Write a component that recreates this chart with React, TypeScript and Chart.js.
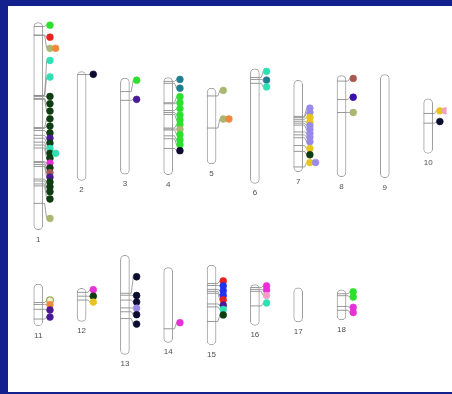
import { useEffect, useRef } from 'react';
import { Chart, registerables } from 'chart.js';

Chart.register(...registerables);

// Chromosome names, grid row/column and lengths (map units)
const chromosomes = ['1', '2', '3', '4', '5', '6', '7', '8', '9', '10', '11', '12', '13', '14', '15', '16', '17', '18'];
const chrRow = [0, 0, 0, 0, 0, 0, 0, 0, 0, 0, 1, 1, 1, 1, 1, 1, 1, 1];
const chrCol = [0, 1, 2, 3, 4, 5, 6, 7, 8, 9, 0, 1, 2, 3, 4, 5, 6, 7];
const chrLength = [213, 112, 99, 100, 78, 118, 94, 104, 106, 56, 43, 34, 102, 77, 82, 42, 35, 31];
const rowCentre = [118, 302];

const palette: Record<string, string> = {
  green: '#2ee02e',
  red: '#e8201e',
  olive: '#a8b870',
  orange: '#f0883a',
  cyan: '#30e0b4',
  dkgreen: '#0d3d10',
  purple: '#4a1a96',
  magenta: '#e830d8',
  brown: '#a85a50',
  teal: '#207f8f',
  navy: '#0c0c30',
  lavender: '#9a8ae8',
  yellow: '#e8c41c',
  pink: '#f0a0c8',
  blue: '#2230f0',
  indigo: '#3a10a8',
  oliveRing: '#eef0d0',
};

// [chromosome, locus (from top), label position (from top), colour, side-by-side slot]
const markers: [number, number, number, string, number][] = [
  [1, 4, 2.7, 'green', 0],
  [1, 13, 15, 'red', 0],
  [1, 13, 26.5, 'olive', 0],
  [1, 13, 26.5, 'orange', 1],
  [1, 75, 39, 'cyan', 0],
  [1, 75, 56, 'cyan', 0],
  [1, 76, 76, 'dkgreen', 0],
  [1, 78, 83.5, 'dkgreen', 0],
  [1, 79, 91, 'dkgreen', 0],
  [1, 108, 99, 'dkgreen', 0],
  [1, 109, 106.5, 'dkgreen', 0],
  [1, 111, 113.5, 'dkgreen', 0],
  [1, 116, 119, 'purple', 0],
  [1, 119, 124, 'dkgreen', 0],
  [1, 123, 129.5, 'cyan', 0],
  [1, 126, 134.5, 'dkgreen', 0],
  [1, 126, 134.5, 'cyan', 1],
  [1, 129, 139.5, 'dkgreen', 0],
  [1, 143, 144.5, 'magenta', 0],
  [1, 144, 149.5, 'dkgreen', 0],
  [1, 146, 154.5, 'brown', 0],
  [1, 148, 159, 'purple', 0],
  [1, 161, 164, 'dkgreen', 0],
  [1, 163, 169, 'dkgreen', 0],
  [1, 166, 174, 'dkgreen', 0],
  [1, 168, 181.5, 'dkgreen', 0],
  [1, 186, 201.5, 'olive', 0],
  [2, 3, 2.7, 'navy', 0],
  [3, 14, 2.3, 'green', 0],
  [3, 23, 22, 'purple', 0],
  [4, 4, 2, 'teal', 0],
  [4, 6, 11, 'teal', 0],
  [4, 26, 19.7, 'green', 0],
  [4, 27, 26, 'green', 0],
  [4, 34, 32, 'green', 0],
  [4, 36, 38.7, 'green', 0],
  [4, 38, 43.7, 'green', 0],
  [4, 52, 48.7, 'green', 0],
  [4, 53, 53.3, 'olive', 0],
  [4, 54, 58.7, 'green', 0],
  [4, 60, 64.3, 'green', 0],
  [4, 63, 69.3, 'green', 0],
  [4, 73, 75.3, 'navy', 0],
  [5, 8, 2.3, 'olive', 0],
  [5, 41, 31.7, 'olive', 0],
  [5, 41, 31.7, 'orange', 1],
  [6, 9, 2.7, 'cyan', 0],
  [6, 11, 11.7, 'teal', 0],
  [6, 15, 18.7, 'cyan', 0],
  [7, 37, 28.5, 'lavender', 0],
  [7, 38, 33, 'lavender', 0],
  [7, 40, 38, 'yellow', 0],
  [7, 42, 43, 'yellow', 0],
  [7, 44, 46.5, 'lavender', 0],
  [7, 46, 50.5, 'lavender', 0],
  [7, 53, 54.5, 'lavender', 0],
  [7, 56, 58.5, 'lavender', 0],
  [7, 59, 63, 'lavender', 0],
  [7, 67, 70, 'yellow', 0],
  [7, 73, 76.5, 'dkgreen', 0],
  [7, 89, 84.5, 'yellow', 0],
  [7, 89, 84.5, 'lavender', 1],
  [8, 5.7, 3, 'brown', 0],
  [8, 24.7, 22.3, 'indigo', 0],
  [8, 38, 38, 'olive', 0],
  [10, 15, 12.3, 'yellow', 0],
  [10, 15, 12.3, 'pink', 1],
  [10, 25, 23.3, 'navy', 0],
  [11, 19, 16.7, 'oliveRing', 0],
  [11, 21, 21.3, 'orange', 0],
  [11, 26, 26.7, 'purple', 0],
  [11, 36, 34, 'purple', 0],
  [12, 4, 1.3, 'magenta', 0],
  [12, 8, 8, 'dkgreen', 0],
  [12, 12, 14, 'yellow', 0],
  [13, 39, 22, 'navy', 0],
  [13, 41, 41.3, 'navy', 0],
  [13, 46, 48, 'navy', 0],
  [13, 54, 54.3, 'lavender', 0],
  [13, 58, 61, 'navy', 0],
  [13, 65, 70.7, 'navy', 0],
  [14, 63, 56.7, 'magenta', 0],
  [15, 19, 16.3, 'red', 0],
  [15, 21, 21.3, 'blue', 0],
  [15, 25, 26.3, 'blue', 0],
  [15, 27, 31.3, 'blue', 0],
  [15, 29, 35.7, 'red', 0],
  [15, 40, 41.3, 'purple', 0],
  [15, 43, 45.7, 'cyan', 0],
  [15, 58, 51.3, 'dkgreen', 0],
  [16, 3, 1.3, 'magenta', 0],
  [16, 5, 5.7, 'magenta', 0],
  [16, 7, 11.3, 'pink', 0],
  [16, 22, 19, 'cyan', 0],
  [18, 4, 2, 'green', 0],
  [18, 6, 7.3, 'green', 0],
  [18, 17, 18, 'magenta', 0],
  [18, 21, 23.3, 'magenta', 0],
];

const X_MIN = -0.574;
const X_MAX = 9.426;
const CANVAS_W = 444;
const CANVAS_H = 386;

export default function App() {
  const ref = useRef<HTMLCanvasElement>(null);

  useEffect(() => {
    if (!ref.current) return;
    const px = (X_MAX - X_MIN) / CANVAS_W; // x units per pixel
    const edge = 4.5 * px;
    const stub = 2 * px;
    const dotOff = 12 * px;
    const slotOff = 5.8 * px;
    const dotR = 3.4;

    const chrTop = (ci: number) => rowCentre[chrRow[ci]] - chrLength[ci] / 2;

    const bars = chromosomes.map((_, i) => ({
      x: chrCol[i],
      y: [chrTop(i), chrTop(i) + chrLength[i]],
    }));

    const bands = markers
      .filter((m) => m[4] === 0)
      .map((m) => ({ x: chrCol[m[0] - 1], y: chrTop(m[0] - 1) + m[1] }));

    const links: { x: number; y: number | null }[] = [];
    markers
      .filter((m) => m[4] === 0)
      .forEach((m) => {
        const ci = m[0] - 1;
        const c = chrCol[ci];
        const t = chrTop(ci);
        links.push({ x: c + edge, y: t + m[1] });
        links.push({ x: c + edge + stub, y: t + m[1] });
        links.push({ x: c + dotOff - dotR * px, y: t + m[2] });
        links.push({ x: c, y: null });
      });

    const dots = markers.map((m) => {
      const ci = m[0] - 1;
      return { x: chrCol[ci] + dotOff + m[4] * slotOff, y: chrTop(ci) + m[2] };
    });
    const dotFill = markers.map((m) => palette[m[3]]);
    const dotBorder = markers.map((m) => (m[3] === 'oliveRing' ? '#9bb05a' : palette[m[3]]));
    const dotBorderW = markers.map((m) => (m[3] === 'oliveRing' ? 1.3 : 0.6));

    const labelPlugin = {
      id: 'chrLabels',
      afterDatasetsDraw(chart: any) {
        const { ctx, scales } = chart;
        ctx.save();
        ctx.fillStyle = '#505050';
        ctx.font = '8px "Liberation Sans", Arial, sans-serif';
        ctx.textAlign = 'center';
        ctx.textBaseline = 'middle';
        chromosomes.forEach((name, i) => {
          const x = scales.x.getPixelForValue(chrCol[i]);
          const y = scales.y.getPixelForValue(chrTop(i) + chrLength[i] + 10);
          ctx.fillText(name, x, y);
        });
        ctx.restore();
      },
    };

    const chart = new Chart(ref.current, {
      type: 'bar',
      data: {
        datasets: [
          {
            type: 'bar',
            data: bars as any,
            backgroundColor: '#ffffff',
            borderColor: '#9c9c9c',
            borderWidth: 1,
            borderRadius: 5,
            borderSkipped: false,
            barThickness: 9,
            grouped: false,
            order: 4,
          } as any,
          {
            type: 'scatter',
            data: bands,
            pointStyle: 'line',
            pointRadius: 4.5,
            pointBorderWidth: 0.9,
            pointBorderColor: '#8c8c8c',
            order: 3,
          } as any,
          {
            type: 'scatter',
            data: links,
            showLine: true,
            spanGaps: false,
            pointRadius: 0,
            borderColor: '#8c8c8c',
            borderWidth: 0.8,
            order: 2,
          } as any,
          {
            type: 'scatter',
            data: dots,
            pointRadius: dotR,
            pointBackgroundColor: dotFill,
            pointBorderColor: dotBorder,
            pointBorderWidth: dotBorderW,
            order: 1,
          } as any,
        ],
      },
      options: {
        animation: false,
        responsive: false,
        events: [],
        layout: { padding: 0 },
        plugins: {
          legend: { display: false },
          tooltip: { enabled: false },
        },
        scales: {
          x: { type: 'linear', min: X_MIN, max: X_MAX, offset: false, display: false },
          y: { type: 'linear', min: 0, max: CANVAS_H, reverse: true, display: false },
        },
      } as any,
      plugins: [labelPlugin],
    });
    return () => chart.destroy();
  }, []);

  return (
    <div style={{ position: 'fixed', inset: 0, background: '#13218f' }}>
      <div
        style={{
          position: 'absolute',
          left: 8,
          top: 6,
          width: CANVAS_W,
          height: CANVAS_H,
          background: '#ffffff',
        }}
      >
        <canvas ref={ref} width={CANVAS_W} height={CANVAS_H} style={{ display: 'block' }} />
      </div>
    </div>
  );
}
